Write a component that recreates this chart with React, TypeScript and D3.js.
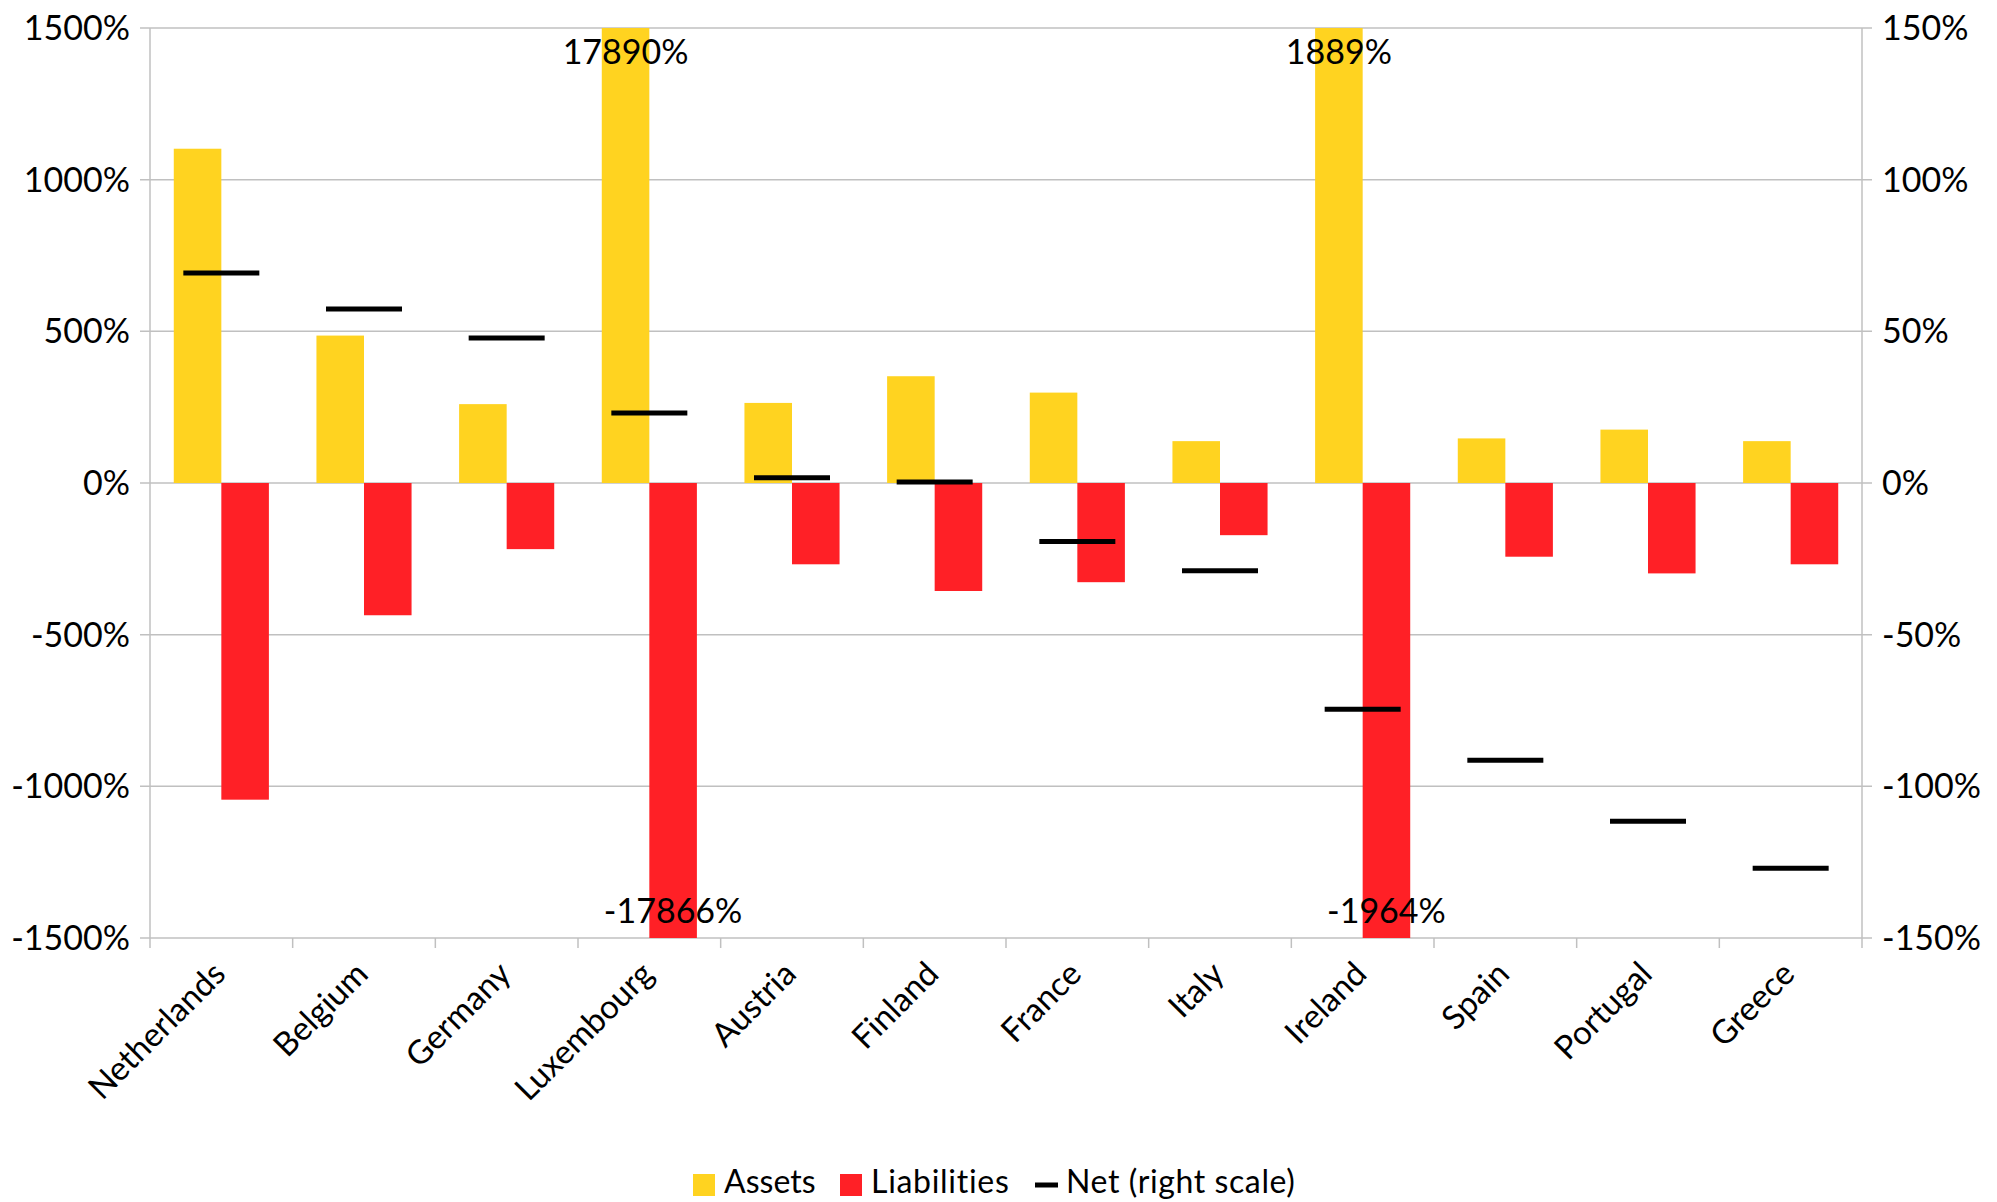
import React from "react";
import * as d3 from "d3";

const categories = ["Netherlands", "Belgium", "Germany", "Luxembourg", "Austria", "Finland", "France", "Italy", "Ireland", "Spain", "Portugal", "Greece"];
const assets = [1102, 486, 260, 17890, 264, 352, 298, 138, 1889, 147, 176, 138];
const liabilities = [-1044, -436, -218, -17866, -268, -356, -327, -172, -1964, -243, -298, -268];
const net = [69.2, 57.4, 47.8, 23.1, 1.7, 0.3, -19.3, -28.9, -74.6, -91.4, -111.5, -127];
const leftTicks = [-1500, -1000, -500, 0, 500, 1000, 1500];
const rightTicks = [-150, -100, -50, 0, 50, 100, 150];

const W = 1997, H = 1202;
const M = { left: 150, right: 1862, top: 28, bottom: 938 };
const FONT = "Lato, 'Liberation Sans', sans-serif";
const YELLOW = "#ffd320";
const RED = "#ff2026";
const GRID = "#c0c0c0";

export default function App() {
  const x = d3.scaleBand<string>().domain(categories).range([M.left, M.right]).padding(0);
  const bw = x.bandwidth();
  const barW = bw / 3;
  const yL = d3.scaleLinear().domain([-1500, 1500]).range([M.bottom, M.top]).clamp(true);
  const yR = d3.scaleLinear().domain([-150, 150]).range([M.bottom, M.top]).clamp(true);
  const fmt = (v: number) => `${v}%`;

  return (
    <svg width={W} height={H} style={{ position: "absolute", left: 0, top: 0, background: "#fff" }} fontFamily={FONT}>
      <rect x={0} y={0} width={W} height={H} fill="#fff" />
      {leftTicks.map((t) => (
        <line key={"g" + t} x1={M.left - 10} x2={M.right + 10} y1={yL(t)} y2={yL(t)} stroke={GRID} strokeWidth={1.5} />
      ))}
      <line x1={M.left} x2={M.left} y1={M.top} y2={M.bottom} stroke={GRID} strokeWidth={1.5} />
      <line x1={M.right} x2={M.right} y1={M.top} y2={M.bottom} stroke={GRID} strokeWidth={1.5} />
      {d3.range(categories.length + 1).map((i) => {
        const xx = M.left + i * bw;
        return <line key={"xt" + i} x1={xx} x2={xx} y1={M.bottom} y2={M.bottom + 10} stroke={GRID} strokeWidth={1.5} />;
      })}
      {categories.map((c, i) => {
        const x0 = (x(c) as number) + bw / 6;
        return (
          <g key={c}>
            <rect x={x0} width={barW} y={yL(assets[i])} height={yL(0) - yL(assets[i])} fill={YELLOW} />
            <rect x={x0 + barW} width={barW} y={yL(0)} height={yL(liabilities[i]) - yL(0)} fill={RED} />
          </g>
        );
      })}
      {categories.map((c, i) => {
        const cx = (x(c) as number) + bw / 2;
        return <line key={"n" + c} x1={cx - 38} x2={cx + 38} y1={yR(net[i])} y2={yR(net[i])} stroke="#000" strokeWidth={5} />;
      })}
      {categories.map((c, i) => {
        const x0 = (x(c) as number) + bw / 6;
        const out: React.ReactNode[] = [];
        if (assets[i] > 1500) out.push(<text key="a" x={x0 + barW / 2} y={M.top + 36} textAnchor="middle" fontSize={34}>{fmt(assets[i])}</text>);
        if (liabilities[i] < -1500) out.push(<text key="l" x={x0 + barW * 1.5} y={M.bottom - 15} textAnchor="middle" fontSize={34}>{fmt(liabilities[i])}</text>);
        return <g key={"lab" + c}>{out}</g>;
      })}
      {leftTicks.map((t) => (
        <text key={"lt" + t} x={M.left - 20} y={yL(t)} dy="0.35em" textAnchor="end" fontSize={34}>{fmt(t)}</text>
      ))}
      {rightTicks.map((t) => (
        <text key={"rt" + t} x={M.right + 20} y={yR(t)} dy="0.35em" textAnchor="start" fontSize={34}>{fmt(t)}</text>
      ))}
      {categories.map((c) => {
        const cx = (x(c) as number) + bw / 2;
        const ax = cx + 6, ay = M.bottom + 38;
        return (
          <text key={"c" + c} x={ax} y={ay} textAnchor="end" fontSize={33} transform={`rotate(-45 ${ax} ${ay})`}>{c}</text>
        );
      })}
      <g fontSize={32}>
        <rect x={693} y={1174} width={22} height={22} fill={YELLOW} />
        <text x={724} y={1193}>Assets</text>
        <rect x={840} y={1174} width={22} height={22} fill={RED} />
        <text x={871} y={1193} letterSpacing={0.7}>Liabilities</text>
        <line x1={1035} x2={1058} y1={1185} y2={1185} stroke="#000" strokeWidth={5} />
        <text x={1066} y={1193} letterSpacing={0.6}>Net (right scale)</text>
      </g>
    </svg>
  );
}
